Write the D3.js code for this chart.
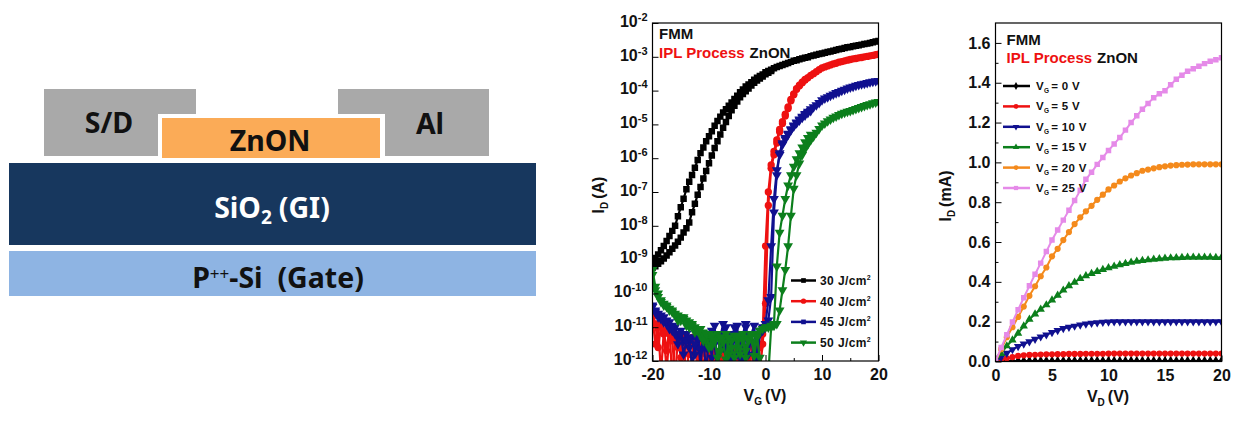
<!DOCTYPE html>
<html>
<head>
<meta charset="utf-8">
<script src="https://cdn.jsdelivr.net/npm/d3@7"></script>
<style>
  body { margin: 0; background: #fff; }
  text { font-family: "Liberation Sans", Arial, sans-serif; font-weight: bold; fill: #111; }
  .stack text { font-family: "Noto Sans", sans-serif; font-size: 28.5px; }
  .domain { display: none; }
</style>
</head>
<body>
<svg id="fig" width="1241" height="425"></svg>
<script>
// transfer curve: log10(ID) on a 0.5 V grid starting at VG = -20, rows are 5 V long
const vgSweep = d3.range(-20, 20.5, 0.5);
const black30a = [
  -9.10,-8.95,-8.85,-8.72,-8.60,-8.45,-8.30,-8.15,-8.00,-7.72,
  -7.45,-7.20,-6.92,-6.70,-6.50,-6.28,-6.05,-5.85,-5.68,-5.50,
  -5.35,-5.20,-5.04,-4.90,-4.77,-4.65,-4.55,-4.45,-4.35,-4.25,
  -4.15,-4.05,-3.97,-3.88,-3.82,-3.75,-3.68,-3.62,-3.57,-3.52,
  -3.46,-3.42,-3.38,-3.34,-3.30,-3.27,-3.24,-3.21,-3.18,-3.15,
  -3.12,-3.10,-3.07,-3.05,-3.03,-3.01,-2.98,-2.96,-2.94,-2.92,
  -2.90,-2.88,-2.86,-2.84,-2.82,-2.80,-2.78,-2.76,-2.74,-2.72,
  -2.71,-2.69,-2.67,-2.66,-2.64,-2.62,-2.61,-2.59,-2.57,-2.55,
  -2.53];
const black30b = [
  -9.25,-9.20,-9.12,-9.05,-8.97,-8.88,-8.78,-8.68,-8.58,-8.47,
  -8.35,-8.20,-8.07,-7.90,-7.60,-7.35,-7.08,-6.85,-6.60,-6.38,
  -6.15,-5.92,-5.70,-5.50,-5.30,-5.10,-4.93,-4.75,-4.58,-4.45,
  -4.32,-4.20,-4.10,-4.02,-3.94,-3.85,-3.77,-3.70,-3.64,-3.58,
  -3.52,-3.47,-3.42];
const red40a = [
  -10.7,-11.5,-10.9,-12.4,-11.1,-11.7,-11.0,-12.6,-11.3,-11.6,
  -11.2,-12.5,-11.4,-11.8,-11.3,-12.7,-11.5,-12.0,-11.4,-12.5,
  -11.6,-12.3,-11.7,-12.6,-11.9,-11.6,-12.4,-11.8,-12.7,-11.7,
  -12.2,-11.7,-12.5,-11.6,-11.9,-12.4,-11.7,-11.9,-12.3,-11.5,
  -10.30,-7.40,-6.30,-5.90,-5.55,-5.22,-4.97,-4.75,-4.53,-4.30,
  -4.12,-3.96,-3.86,-3.77,-3.69,-3.62,-3.55,-3.50,-3.44,-3.38,
  -3.33,-3.30,-3.27,-3.24,-3.21,-3.19,-3.16,-3.14,-3.12,-3.10,
  -3.08,-3.06,-3.05,-3.03,-3.02,-3.00,-2.99,-2.97,-2.96,-2.94,
  -2.92];
const red40b = [
  -10.6,-10.9,-11.6,-11.0,-11.2,-12.3,-11.2,-11.4,-12.5,-11.3,
  -11.9,-11.3,-12.6,-11.5,-12.1,-11.4,-11.7,-12.4,-11.6,-11.8,
  -12.5,-11.7,-12.0,-11.8,-12.6,-11.7,-11.9,-12.5,-11.6,-12.1,
  -11.8,-12.6,-11.7,-12.0,-11.6,-12.2,-11.8,-12.5,-11.6,-11.2,
  -8.60,-7.00,-6.20,-5.80,-5.46,-5.15,-4.92,-4.70,-4.48,-4.26,
  -4.10,-3.94,-3.84,-3.75,-3.67];
const blue45a = [
  -10.35,-10.50,-10.60,-10.75,-10.70,-10.90,-10.85,-11.10,-11.00,-11.25,
  -11.10,-11.40,-11.20,-11.60,-11.30,-11.80,-11.40,-12.10,-11.30,-11.60,
  -11.20,-11.90,-10.95,-12.20,-11.30,-10.90,-11.70,-11.20,-12.10,-11.30,
  -10.95,-12.30,-11.20,-10.90,-11.80,-11.20,-10.95,-12.00,-11.20,-11.10,
  -11.00,-10.80,-10.10,-7.60,-6.50,-5.85,-5.55,-5.40,-5.27,-5.14,
  -5.03,-4.94,-4.85,-4.77,-4.69,-4.62,-4.55,-4.49,-4.43,-4.36,
  -4.28,-4.23,-4.19,-4.15,-4.11,-4.07,-4.04,-4.00,-3.97,-3.93,
  -3.90,-3.88,-3.85,-3.83,-3.81,-3.79,-3.77,-3.75,-3.73,-3.72,
  -3.71];
const blue45b = [
  -10.40,-10.55,-10.70,-10.65,-10.85,-10.80,-11.05,-10.95,-11.20,-11.50,
  -11.20,-11.80,-11.40,-11.30,-12.20,-11.50,-11.30,-11.70,-11.40,-12.30,
  -11.30,-11.10,-11.50,-12.40,-11.20,-11.60,-11.00,-12.20,-11.40,-11.00,
  -11.80,-11.20,-12.30,-11.00,-11.40,-11.20,-12.20,-11.30,-11.10,-11.00,
  -10.90,-10.20,-8.60,-7.20,-6.35,-5.90,-5.60,-5.44,-5.30,-5.17,
  -5.06,-4.96,-4.88,-4.80,-4.73,-4.66,-4.60];
const green50a = [
  -9.45,-9.90,-10.10,-10.20,-10.30,-10.40,-10.45,-10.55,-10.60,-10.65,
  -10.70,-10.75,-10.80,-10.85,-10.95,-11.00,-11.05,-11.25,-11.15,-11.40,
  -11.20,-11.55,-11.30,-11.20,-11.70,-11.30,-11.20,-11.80,-11.40,-11.25,
  -11.60,-11.30,-11.20,-11.70,-11.30,-11.20,-11.50,-11.20,-11.10,-11.05,
  -11.00,-11.00,-10.95,-10.95,-10.90,-10.50,-9.90,-9.30,-8.60,-7.70,
  -6.90,-6.50,-6.15,-5.90,-5.72,-5.58,-5.46,-5.35,-5.24,-5.13,
  -5.03,-4.97,-4.90,-4.85,-4.80,-4.76,-4.72,-4.68,-4.65,-4.62,
  -4.60,-4.57,-4.54,-4.51,-4.48,-4.45,-4.42,-4.40,-4.37,-4.35,
  -4.33];
const green50b = [
  -9.30,-9.80,-10.00,-10.25,-10.35,-10.35,-10.50,-10.50,-10.65,-10.80,
  -10.80,-10.70,-10.95,-11.00,-10.90,-11.15,-11.10,-11.05,-11.40,-11.20,
  -11.60,-11.25,-11.40,-11.90,-11.30,-11.45,-11.95,-11.30,-11.60,-11.90,
  -11.25,-11.80,-11.35,-11.90,-11.40,-11.25,-11.85,-11.30,-11.90,-12.30,
  -12.50,-12.40,-11.00,-10.90,-9.20,-8.20,-7.70,-7.20,-6.80,-6.50,
  -6.25,-6.03,-5.85,-5.68,-5.52,-5.40,-5.30];

const transferSeries = ['30 J/cm', '40 J/cm', '45 J/cm', '50 J/cm'];
const transferColors = ['#000000', '#ee1111', '#10108f', '#0c7f1c'];
const transferSymbols = [d3.symbolSquare, d3.symbolCircle, d3.symbolTriangle, d3.symbolTriangle];
const transferData = [[black30a, black30b], [red40a, red40b], [blue45a, blue45b], [green50a, green50b]];
const logTicks = [-12, -11, -10, -9, -8, -7, -6, -5, -4, -3, -2];

// output curve: ID in mA on a 0.5 V grid starting at VD = 0
const vdSweep = d3.range(0, 20.5, 0.5);
const vg0 = [0,.001,.002,.002,.003,.003,.003,.003,.003,.003,.003,.003,.003,.003,.003,.003,.003,.003,.003,.003,.003,.003,.003,.003,.003,.003,.003,.003,.003,.003,.003,.003,.003,.003,.003,.003,.003,.003,.003,.003,.003];
const vg5 = [0,.008,.016,.022,.028,.031,.033,.034,.035,.036,.036,.037,.037,.038,.038,.038,.039,.039,.039,.039,.040,.040,.040,.040,.040,.040,.040,.040,.040,.040,.040,.040,.040,.040,.040,.040,.040,.040,.040,.040,.040];
const vg10 = [0,.022,.042,.060,.076,.088,.100,.112,.124,.134,.146,.156,.166,.172,.178,.184,.189,.192,.195,.197,.199,.200,.200,.200,.200,.200,.200,.200,.200,.200,.200,.200,.200,.200,.200,.200,.200,.200,.200,.200,.200];
const vg15 = [0,.040,.078,.108,.142,.178,.212,.238,.262,.284,.308,.332,.358,.380,.398,.416,.430,.442,.452,.462,.470,.478,.486,.492,.498,.503,.507,.510,.513,.516,.518,.520,.521,.522,.523,.523,.523,.523,.523,.522,.522];
const vg20 = [0,.062,.122,.172,.224,.276,.330,.378,.428,.472,.528,.566,.610,.650,.690,.724,.754,.782,.812,.838,.864,.884,.904,.920,.934,.946,.958,.964,.970,.976,.980,.984,.986,.988,.989,.990,.990,.990,.990,.990,.990];
const vg25 = [0,.070,.134,.198,.260,.320,.380,.438,.494,.552,.610,.660,.710,.760,.808,.860,.915,.950,.990,1.025,1.060,1.092,1.125,1.162,1.200,1.234,1.267,1.296,1.325,1.345,1.360,1.390,1.417,1.438,1.458,1.470,1.483,1.496,1.508,1.516,1.525];

const outputSeries = ['0', '5', '10', '15', '20', '25'];
const outputColors = ['#000000', '#ee1111', '#10108f', '#0c7f1c', '#f48a1c', '#e58ae8'];
const outputSymbols = [d3.symbolDiamond, d3.symbolCircle, d3.symbolTriangle, d3.symbolTriangle, d3.symbolCircle, d3.symbolSquare];
const outputFlip = [false, false, true, false, false, false];
const outputData = [vg0, vg5, vg10, vg15, vg20, vg25];
const linTicks = [0, 0.2, 0.4, 0.6, 0.8, 1.0, 1.2, 1.4, 1.6];

// device stack on the left
const stackLabels = ['S/D', 'Al', 'ZnON', 'SiO', '(GI)', 'P', '-Si  (Gate)'];
const stackColors = { metal: '#a9a9a9', channel: '#fbab57', oxide: '#17375e', gate: '#8eb4e3' };

const svg = d3.select('#fig');

function drawStack() {
  const g = svg.append('g').attr('class', 'stack');
  const box = (x, y, w, h, c) => g.append('rect').attr('x', x).attr('y', y).attr('width', w).attr('height', h).attr('fill', c);
  box(44, 89, 152, 67, stackColors.metal);
  box(338, 89, 151, 67, stackColors.metal);
  box(158, 114, 227, 46, '#fff');
  box(162, 118, 218, 40, stackColors.channel);
  box(9, 163, 527, 82, stackColors.oxide);
  box(9, 251, 527, 45, stackColors.gate);

  const label = (x, y, s, c) => g.append('text').attr('x', x).attr('y', y).attr('text-anchor', 'middle').style('fill', c).text(s);
  label(109, 133, stackLabels[0], '#111');
  label(430, 134, stackLabels[1], '#111');
  label(270, 151, stackLabels[2], '#111');

  const si = g.append('text').attr('x', 272).attr('y', 218).attr('text-anchor', 'middle').style('fill', '#fff');
  si.append('tspan').text(stackLabels[3]);
  si.append('tspan').attr('dy', 6).style('font-size', '19px').text('2');
  si.append('tspan').attr('dy', -6).attr('dx', 7).text(stackLabels[4]);

  const gate = g.append('text').attr('x', 278).attr('y', 288).attr('text-anchor', 'middle').attr('xml:space', 'preserve');
  gate.append('tspan').text(stackLabels[5]);
  gate.append('tspan').attr('dy', -8).style('font-size', '17px').style('font-weight', 'normal').text('++');
  gate.append('tspan').attr('dy', 8).text(stackLabels[6]);
}

function subLabel(g, x, y, main, sub, rest, rotate) {
  const t = g.append('text').attr('text-anchor', 'middle').style('font-size', '16px')
    .attr('transform', `translate(${x},${y})` + (rotate ? ' rotate(-90)' : ''));
  t.append('tspan').text(main);
  t.append('tspan').attr('dy', 4).style('font-size', '10px').text(sub);
  t.append('tspan').attr('dy', -4).attr('dx', 3).text(rest);
}

function panel(id, x, y, xTicks, xMinor) {
  const g = svg.append('g').attr('class', id);
  g.append('defs').append('clipPath').attr('id', 'clip-' + id).append('rect')
    .attr('x', x.range()[0]).attr('width', x.range()[1] - x.range()[0])
    .attr('y', y.range()[1]).attr('height', y.range()[0] - y.range()[1]);
  const ax = g.append('g').attr('transform', `translate(0,${y.range()[0]})`);
  ax.call(d3.axisBottom(x).tickValues(xMinor).tickSize(-3).tickFormat(''));
  const major = g.append('g').attr('transform', `translate(0,${y.range()[0]})`);
  major.call(d3.axisBottom(x).tickValues(xTicks).tickSize(-6).tickPadding(8).tickFormat(d => String(d)));
  major.selectAll('text').style('font-size', '16px');
  g.selectAll('line').attr('stroke', '#000').attr('stroke-width', 1);
  return g;
}

function frame(g, x, y) {
  g.append('rect').attr('x', x.range()[0]).attr('y', y.range()[1])
    .attr('width', x.range()[1] - x.range()[0]).attr('height', y.range()[0] - y.range()[1])
    .attr('fill', 'none').attr('stroke', '#000').attr('stroke-width', 1.2);
}

function caption(g, x, y1, y2) {
  g.append('text').attr('x', x).attr('y', y1).style('font-size', '15px').text('FMM');
  const t = g.append('text').attr('x', x).attr('y', y2).style('font-size', '15px');
  t.append('tspan').style('fill', '#ee1111').text('IPL Process');
  t.append('tspan').attr('dx', 5).text('ZnON');
}

function drawSeries(g, id, x, y, xs, ys, color, symbol, size, flip, lw) {
  const plot = g.append('g').attr('clip-path', `url(#clip-${id})`);
  const line = d3.line().x((d, i) => x(xs[i])).y(d => y(d));
  plot.append('path').datum(ys).attr('d', line).attr('fill', 'none').attr('stroke', color).attr('stroke-width', lw);
  const sym = d3.symbol().type(symbol).size(size);
  plot.selectAll('path.pt').data(ys).enter().append('path').attr('class', 'pt')
    .attr('d', sym)
    .attr('fill', color)
    .attr('transform', (d, i) => `translate(${x(xs[i])},${y(d)})` + (flip ? ' rotate(180)' : ''));
}

function drawTransfer() {
  const x = d3.scaleLinear().domain([-20, 20]).range([652.5, 878.5]);
  const y = d3.scaleLinear().domain([-12, -2]).range([361, 23]);
  const g = panel('transfer', x, y, [-20, -10, 0, 10, 20], [-15, -5, 5, 15]);

  transferData.forEach((branches, s) => {
    branches.forEach(b => {
      drawSeries(g, 'transfer', x, y, vgSweep, b, transferColors[s], transferSymbols[s], 42, s >= 2, 2.2);
    });
  });

  const ay = g.append('g').attr('transform', `translate(${x.range()[0]},0)`)
    .call(d3.axisLeft(y).tickValues(logTicks).tickSize(-6).tickPadding(5).tickFormat(''));
  ay.selectAll('line').attr('stroke', '#000');
  ay.selectAll('.tick text').each(function (d) {
    const t = d3.select(this);
    t.append('tspan').style('font-size', '16px').text('10');
    t.append('tspan').attr('dy', -6).style('font-size', '11px').text(d);
  });
  frame(g, x, y);
  caption(g, 659, 39, 58);
  subLabel(g, 765, 401, 'V', 'G', '(V)');
  subLabel(g, 604, 195, 'I', 'D', '(A)', true);

  transferSeries.forEach((name, i) => {
    const ly = 280.5 + i * 20.7;
    g.append('line').attr('x1', 791).attr('x2', 816).attr('y1', ly).attr('y2', ly)
      .attr('stroke', transferColors[i]).attr('stroke-width', 2.5);
    g.append('path').attr('d', d3.symbol().type(i === 2 ? d3.symbolSquare : transferSymbols[i]).size(22)())
      .attr('fill', transferColors[i]).attr('transform', `translate(803.5,${ly})` + (i === 3 ? ' rotate(180)' : ''));
    const t = g.append('text').attr('x', 820).attr('y', ly + 4.5).style('font-size', '12px').style('letter-spacing', '0.4px');
    t.append('tspan').text(name);
    t.append('tspan').attr('dy', -5).style('font-size', '7px').text('2');
  });
}

function drawOutput() {
  const x = d3.scaleLinear().domain([0, 20]).range([995.5, 1221.5]);
  const y = d3.scaleLinear().domain([0, 1.7]).range([361.5, 23]);
  const g = panel('output', x, y, [0, 5, 10, 15, 20], [2.5, 7.5, 12.5, 17.5]);

  outputData.forEach((vals, s) => {
    drawSeries(g, 'output', x, y, vdSweep, vals, outputColors[s], outputSymbols[s], 30, outputFlip[s], 2);
  });

  const ay = g.append('g').attr('transform', `translate(${x.range()[0]},0)`);
  ay.call(d3.axisLeft(y).tickValues(d3.range(0.1, 1.7, 0.2)).tickSize(-3).tickFormat(''));
  const ayMajor = g.append('g').attr('transform', `translate(${x.range()[0]},0)`);
  ayMajor.call(d3.axisLeft(y).tickValues(linTicks).tickSize(-6).tickPadding(5).tickFormat(d3.format('.1f')));
  ayMajor.selectAll('text').style('font-size', '16px');
  g.selectAll('.tick line').attr('stroke', '#000');
  frame(g, x, y);
  caption(g, 1006.5, 45, 63);
  subLabel(g, 1108, 402, 'V', 'D', '(V)');
  subLabel(g, 951, 196, 'I', 'D', '(mA)', true);

  outputSeries.forEach((name, i) => {
    const ly = 86 + i * 20.4;
    g.append('line').attr('x1', 1003).attr('x2', 1030).attr('y1', ly).attr('y2', ly)
      .attr('stroke', outputColors[i]).attr('stroke-width', 2.5);
    g.append('path').attr('d', d3.symbol().type(outputSymbols[i]).size(18)())
      .attr('fill', outputColors[i]).attr('transform', `translate(1016,${ly})` + (outputFlip[i] ? ' rotate(180)' : ''));
    const t = g.append('text').attr('x', 1036).attr('y', ly + 4).style('font-size', '11.5px').style('letter-spacing', '0.3px');
    t.append('tspan').text('V');
    t.append('tspan').attr('dy', 3).style('font-size', '6.5px').text('G');
    t.append('tspan').attr('dy', -3).attr('dx', 2).text('= ' + name + ' V');
  });
}

drawStack();
drawTransfer();
drawOutput();
</script>
</body>
</html>
